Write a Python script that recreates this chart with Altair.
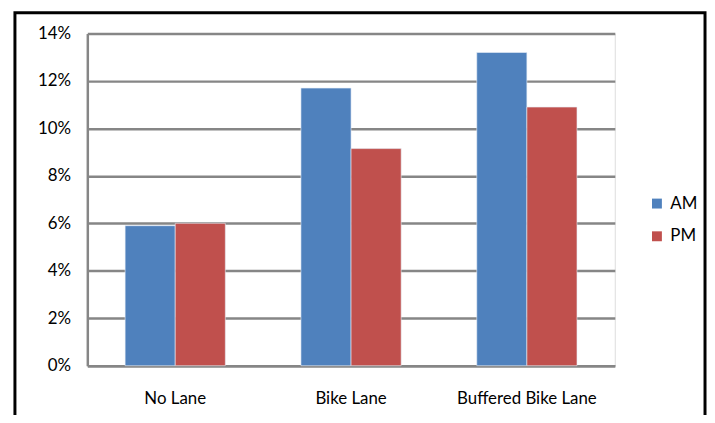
import altair as alt
import pandas as pd

categories = ["No Lane", "Bike Lane", "Buffered Bike Lane"]
am_values = [5.9, 11.7, 13.2]
pm_values = [6.0, 9.15, 10.9]
series = ["AM", "PM"]
y_ticks = [0, 2, 4, 6, 8, 10, 12, 14]

rows = []
for c, a, p in zip(categories, am_values, pm_values):
    rows.append({"lane": c, "period": "AM", "share": a})
    rows.append({"lane": c, "period": "PM", "share": p})
df = pd.DataFrame(rows)

FONT = "Lato"
FS = 17

bars = alt.Chart(df).mark_bar(stroke="#e8eef7", strokeWidth=0.6).encode(
    x=alt.X("lane:N", sort=categories, title=None,
            scale=alt.Scale(paddingInner=0.43, paddingOuter=0.215),
            axis=alt.Axis(labelAngle=0, labelFontSize=FS, labelFont=FONT,
                          labelColor="#000000", ticks=False, labelPadding=25,
                          domainColor="#868686", domainWidth=2.5)),
    xOffset=alt.XOffset("period:N", sort=series, scale=alt.Scale(paddingInner=0, paddingOuter=0)),
    y=alt.Y("share:Q", title=None,
            scale=alt.Scale(domain=[0, 14], nice=False),
            axis=alt.Axis(values=y_ticks, labelExpr="datum.value + '%'",
                          labelFontSize=FS, labelFont=FONT, labelColor="#000000",
                          ticks=False, labelPadding=17, grid=True,
                          gridColor="#868686", gridWidth=2.5,
                          domainColor="#868686", domainWidth=2.5)),
    color=alt.Color("period:N", sort=series,
                    scale=alt.Scale(domain=series, range=["#4F81BD", "#C0504D"]),
                    legend=alt.Legend(title=None, orient="none", legendX=566, legendY=163,
                                      symbolType="square", symbolSize=100,
                                      symbolStrokeWidth=0, labelFontSize=FS,
                                      labelFont=FONT, labelColor="#000000",
                                      rowPadding=15, labelOffset=5, padding=0)),
)

frame = alt.Chart(pd.DataFrame({"k": [0]})).mark_rect(
    filled=False, stroke="#000000", strokeWidth=3, clip=False
).encode(
    x=alt.value(-73), x2=alt.value(623), y=alt.value(-21), y2=alt.value(420)
)

chart = alt.layer(bars, frame).properties(
    width=532, height=335,
    autosize=alt.AutoSizeParams(type="none"),
    padding={"left": 80, "top": 24, "right": 93, "bottom": 48},
).configure_view(stroke=None).configure(background="#ffffff")

chart.save("out.html", embed_options={"renderer": "svg", "actions": False})
